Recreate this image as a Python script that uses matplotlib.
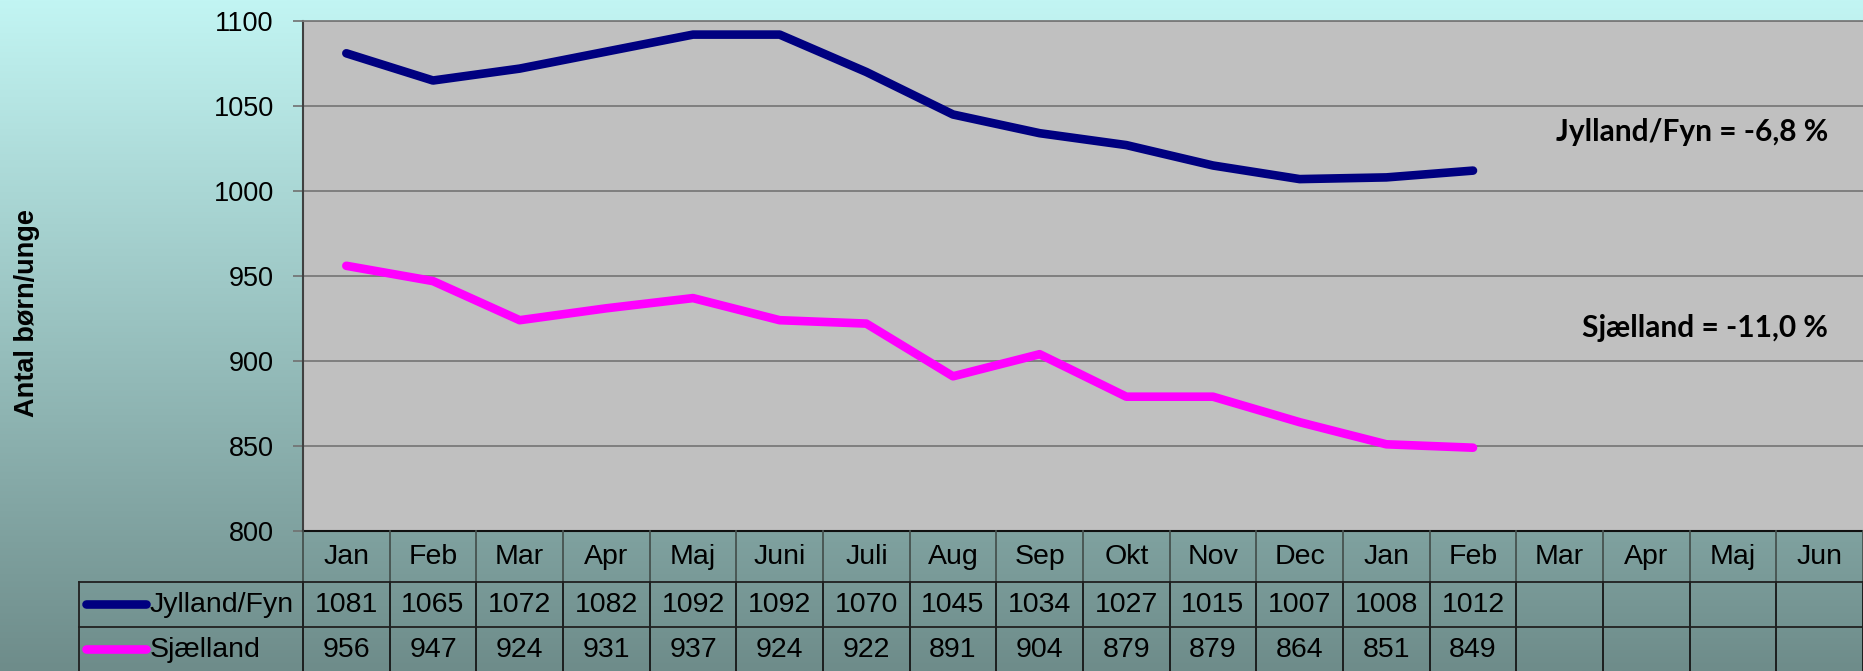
import matplotlib
matplotlib.use('Agg')
import numpy as np
import matplotlib.pyplot as plt
from matplotlib import transforms
from matplotlib.lines import Line2D

plt.rcParams['font.family'] = ['Liberation Sans', 'DejaVu Sans']

months = ['Jan', 'Feb', 'Mar', 'Apr', 'Maj', 'Juni', 'Juli', 'Aug', 'Sep', 'Okt',
          'Nov', 'Dec', 'Jan', 'Feb', 'Mar', 'Apr', 'Maj', 'Jun']
jylland = [1081, 1065, 1072, 1082, 1092, 1092, 1070, 1045, 1034, 1027, 1015, 1007, 1008, 1012]
sjaelland = [956, 947, 924, 931, 937, 924, 922, 891, 904, 879, 879, 864, 851, 849]
series_names = ['Jylland/Fyn', 'Sjælland']
series_colors = ['#000080', '#FF00FF']
annotations = ['Jylland/Fyn = -6,8 %', 'Sjælland = -11,0 %']
y_ticks = [800, 850, 900, 950, 1000, 1050, 1100]

W, H = 1863, 671
fig = plt.figure(figsize=(W / 100, H / 100), dpi=100)

def fy(py):
    return 1 - py / H

def fx(px):
    return px / W

# gradient background
bg = fig.add_axes([0, 0, 1, 1], zorder=-10)
g = np.linspace(0, 1, 256)[:, None, None]
top = np.array([194, 245, 243]) / 255
bot = np.array([110, 140, 138]) / 255
img = top[None, None, :] * (1 - g) + bot[None, None, :] * g
img = np.repeat(img, 2, axis=1)
bg.imshow(img, aspect='auto', extent=[0, 1, 0, 1])
bg.axis('off')

L, T, B = 303, 21, 531
ax = fig.add_axes([fx(L), fy(B), 1 - fx(L), (B - T) / H])
ax.set_facecolor('#C0C0C0')

series = [jylland, sjaelland]
LW = 6.2
for vals, c in zip(series, series_colors):
    ax.plot(np.arange(len(vals)), vals, color=c, lw=LW, solid_capstyle='round', zorder=3)

ax.set_xlim(-0.5, len(months) - 0.5)
ax.set_ylim(y_ticks[0], y_ticks[-1])
ax.set_yticks(y_ticks)
ax.yaxis.grid(True, color='#7a7a7a', lw=1.3)
ax.set_axisbelow(True)
ax.tick_params(axis='x', length=0, labelbottom=False)
ax.tick_params(axis='y', length=7, width=1.2, color='#707070', pad=14, labelsize=19.5)
ax.spines['top'].set_color('#7a7a7a')
ax.spines['top'].set_linewidth(1.3)
ax.spines['right'].set_visible(False)
ax.spines['left'].set_color('#404040')
ax.spines['left'].set_linewidth(1.5)
ax.spines['bottom'].set_color('#101010')
ax.spines['bottom'].set_linewidth(1.5)

# annotations
ann_y = [132, 328]
for txt, yy in zip(annotations, ann_y):
    fig.text(fx(1828), fy(yy), txt, ha='right', va='center', fontsize=21.5,
             fontweight='bold', family=['Lato', 'DejaVu Sans'])

# y label
fig.text(fx(27), fy(313), 'Antal børn/unge', rotation=90, ha='center', va='center',
         fontsize=19.5, fontweight='bold')

# data table
bt = transforms.blended_transform_factory(ax.transData, fig.transFigure)
row_top, r1, r2, r3 = 531, 582, 627, 671
n = len(months)
for i in range(n + 1):
    xb = i - 0.5
    fig.add_artist(Line2D([xb, xb], [fy(row_top), fy(r1)], transform=bt,
                          color='#46524f', lw=1.3))
    fig.add_artist(Line2D([xb, xb], [fy(r1), fy(r3)], transform=bt,
                          color='#151515', lw=1.3))
for yy in [r1, r2]:
    fig.add_artist(Line2D([fx(79), 1], [fy(yy), fy(yy)], transform=fig.transFigure,
                          color='#202020', lw=1.3))
fig.add_artist(Line2D([fx(79), fx(79)], [fy(r1), fy(r3)], transform=fig.transFigure,
                      color='#202020', lw=1.3))

TFS = 20.5
for i, m in enumerate(months):
    fig.text(i, fy((row_top + r1) / 2 + 1), m, transform=bt, ha='center', va='center', fontsize=TFS)

row_centers = [(r1 + r2) / 2, (r2 + r3) / 2 + 1]
for vals, name, c, yc in zip(series, series_names, series_colors, row_centers):
    for i, v in enumerate(vals):
        fig.text(i, fy(yc), str(v), transform=bt, ha='center', va='center', fontsize=TFS)
    fig.add_artist(Line2D([fx(86), fx(146)], [fy(yc - 1), fy(yc - 1)], transform=fig.transFigure,
                          color=c, lw=LW, solid_capstyle='round'))
    fig.text(fx(150), fy(yc), name, ha='left', va='center', fontsize=TFS)

fig.savefig('out.png', dpi=100)
